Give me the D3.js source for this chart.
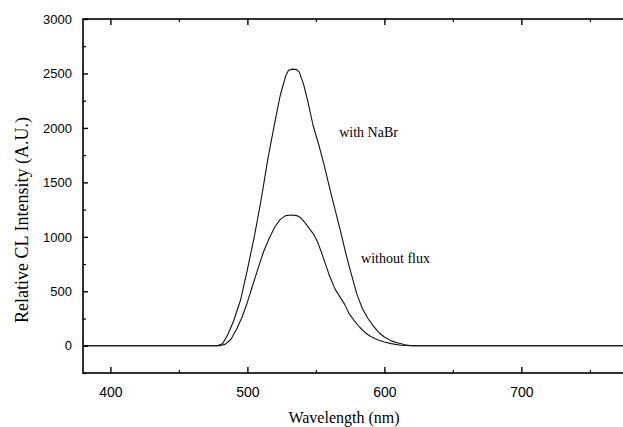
<!DOCTYPE html>
<html>
<head>
<meta charset="utf-8">
<script src="https://cdn.jsdelivr.net/npm/d3@7"></script>
<style>
  html, body { margin: 0; padding: 0; background: #fff; }
  svg { display: block; }
</style>
</head>
<body>
<svg id="chart" width="623" height="427"></svg>
<script>
// ---- data ----
const nabrWavelength = [380, 420, 470, 478, 482, 486, 490, 495, 500, 505, 510, 515, 520, 524, 528, 530, 533, 536, 538, 541, 544, 548, 552, 556, 560, 564, 568, 572, 576, 580, 584, 588, 592, 596, 600, 605, 610, 615, 620, 700, 780];
const nabrIntensity  = [0, 0, 0, 0, 20, 110, 230, 420, 700, 1000, 1340, 1720, 2050, 2300, 2480, 2530, 2540, 2535, 2510, 2400, 2250, 2020, 1850, 1660, 1450, 1250, 1050, 840, 650, 470, 340, 250, 180, 120, 80, 45, 25, 10, 0, 0, 0];

const fluxWavelength = [380, 420, 480, 484, 488, 492, 496, 500, 504, 508, 512, 516, 520, 524, 528, 532, 536, 539, 542, 545, 548, 551, 554, 557, 560, 564, 568, 571, 574, 578, 582, 586, 590, 595, 600, 605, 612, 620, 700, 780];
const fluxIntensity  = [0, 0, 0, 15, 60, 150, 260, 400, 560, 720, 870, 990, 1090, 1160, 1195, 1200, 1195, 1175, 1130, 1080, 1030, 960, 860, 750, 640, 520, 440, 380, 300, 230, 170, 120, 85, 55, 35, 20, 5, 0, 0, 0];

const xTickValues = [400, 500, 600, 700];
const xMinorTicks = [450, 550, 650, 750];
const yTickValues = [0, 500, 1000, 1500, 2000, 2500, 3000];
const yMinorTicks = [-250, 250, 750, 1250, 1750, 2250, 2750];

const seriesLabels = ["with NaBr", "without flux"];
const labelWavelength = [567, 583];
const labelIntensity = [1915, 760];
const xTitle = "Wavelength (nm)";
const yTitle = "Relative CL Intensity (A.U.)";

// ---- layout ----
const svg = d3.select("#chart");
const mLeft = 83, mTop = 19, mBottom = 373;
const x = d3.scaleLinear().domain([380, 780]).range([mLeft, mLeft + 400 * 1.37]);
const y = d3.scaleLinear().domain([-250, 3000]).range([mBottom, mTop]);
const mRight = x.range()[1];

const g = svg.append("g");

// frame
g.append("rect")
  .attr("x", mLeft).attr("y", mTop)
  .attr("width", mRight - mLeft).attr("height", mBottom - mTop)
  .attr("fill", "none").attr("stroke", "#000").attr("stroke-width", 1.6);

// bottom axis (ticks inward)
const xAxis = d3.axisBottom(x).tickValues(xTickValues).tickSize(-6).tickPadding(14).tickFormat(d3.format("d"));
const gx = g.append("g").attr("transform", `translate(0,${mBottom})`).call(xAxis);
gx.select(".domain").remove();
gx.selectAll(".tick line").attr("stroke", "#000").attr("stroke-width", 1.4);
gx.selectAll(".tick text").attr("font-family", "Liberation Sans, Arial, sans-serif").attr("font-size", 14).attr("fill", "#000");
const gxm = g.append("g").attr("transform", `translate(0,${mBottom})`)
  .call(d3.axisBottom(x).tickValues(xMinorTicks).tickSize(-3).tickFormat(""));
gxm.select(".domain").remove();
gxm.selectAll(".tick line").attr("stroke", "#000").attr("stroke-width", 1.2);

// top axis (ticks inward)
const gt = g.append("g").attr("transform", `translate(0,${mTop})`)
  .call(d3.axisTop(x).tickValues(xTickValues).tickSize(-6).tickFormat(""));
gt.select(".domain").remove();
gt.selectAll(".tick line").attr("stroke", "#000").attr("stroke-width", 1.4);
const gtm = g.append("g").attr("transform", `translate(0,${mTop})`)
  .call(d3.axisTop(x).tickValues(xMinorTicks).tickSize(-3).tickFormat(""));
gtm.select(".domain").remove();
gtm.selectAll(".tick line").attr("stroke", "#000").attr("stroke-width", 1.2);

// left axis
const gy = g.append("g").attr("transform", `translate(${mLeft},0)`)
  .call(d3.axisLeft(y).tickValues(yTickValues).tickSize(-5).tickPadding(11).tickFormat(d3.format("d")));
gy.select(".domain").remove();
gy.selectAll(".tick line").attr("stroke", "#000").attr("stroke-width", 1.4);
gy.selectAll(".tick text").attr("font-family", "Liberation Sans, Arial, sans-serif").attr("font-size", 13).attr("fill", "#000");
const gym = g.append("g").attr("transform", `translate(${mLeft},0)`)
  .call(d3.axisLeft(y).tickValues(yMinorTicks).tickSize(-3).tickFormat(""));
gym.select(".domain").remove();
gym.selectAll(".tick line").attr("stroke", "#000").attr("stroke-width", 1.2);

// curves
const line = d3.line().x(d => x(d[0])).y(d => y(d[1]));
svg.append("clipPath").attr("id", "plotclip")
  .append("rect").attr("x", mLeft + 1).attr("y", mTop + 1).attr("width", mRight - mLeft - 2).attr("height", mBottom - mTop - 2);

const series = [
  d3.zip(fluxWavelength, fluxIntensity),
  d3.zip(nabrWavelength, nabrIntensity)
];
g.append("g").attr("clip-path", "url(#plotclip)")
  .selectAll("path").data(series).join("path")
  .attr("d", line)
  .attr("fill", "none")
  .attr("stroke", "#111")
  .attr("stroke-width", 1.1)
  .attr("stroke-linejoin", "round");

// series labels
g.selectAll("text.serlab").data(seriesLabels).join("text")
  .attr("class", "serlab")
  .attr("x", (d, i) => x(labelWavelength[i]))
  .attr("y", (d, i) => y(labelIntensity[i]))
  .attr("font-family", "Liberation Serif, Times New Roman, serif")
  .attr("font-size", 14)
  .attr("fill", "#000")
  .text(d => d);

// axis titles
svg.append("text")
  .attr("x", 344).attr("y", 423)
  .attr("text-anchor", "middle")
  .attr("font-family", "Liberation Serif, Times New Roman, serif")
  .attr("font-size", 16).attr("fill", "#000")
  .text(xTitle);

svg.append("text")
  .attr("transform", "translate(28,220) rotate(-90)")
  .attr("text-anchor", "middle")
  .attr("font-family", "Liberation Serif, Times New Roman, serif")
  .attr("font-size", 18).attr("fill", "#000")
  .text(yTitle);
</script>
</body>
</html>
